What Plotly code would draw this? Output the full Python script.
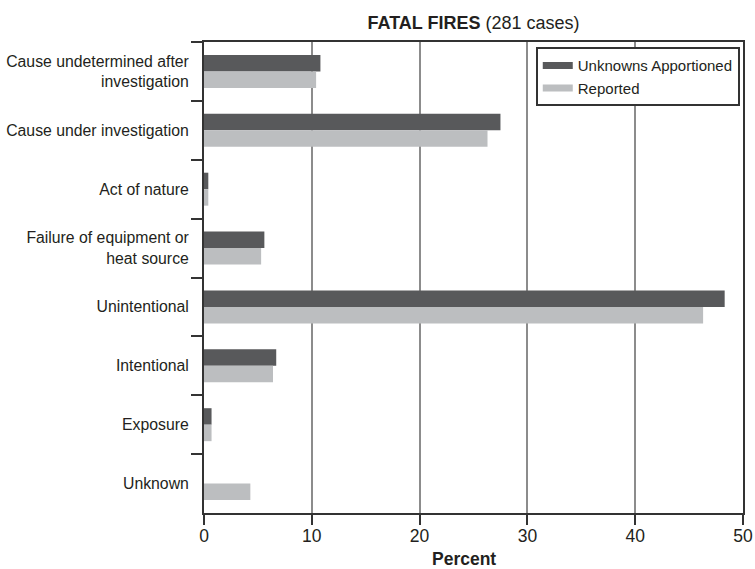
import plotly.graph_objects as go

categories = [
    "Cause undetermined after<br>investigation",
    "Cause under investigation",
    "Act of nature",
    "Failure of equipment or<br>heat source",
    "Unintentional",
    "Intentional",
    "Exposure",
    "Unknown",
]
apportioned = [10.8, 27.5, 0.4, 5.6, 48.3, 6.7, 0.7, 0.0]
reported = [10.4, 26.3, 0.4, 5.3, 46.3, 6.4, 0.7, 4.3]
series_names = ["Unknowns Apportioned", "Reported"]
x_ticks = [0, 10, 20, 30, 40, 50]

DARK = "#58595b"
LIGHT = "#bcbec0"
FONT = "Liberation Sans, Arial, sans-serif"
TXT = "#231f20"

fig = go.Figure()
fig.add_trace(go.Bar(y=categories, x=apportioned, orientation="h", marker_color=DARK,
                     marker_line_width=0, name=series_names[0], showlegend=False))
fig.add_trace(go.Bar(y=categories, x=reported, orientation="h", marker_color=LIGHT,
                     marker_line_width=0, name=series_names[1], showlegend=False))
# legend swatches (wide flat rectangles)
for nm, col in zip(series_names, [DARK, LIGHT]):
    fig.add_trace(go.Scatter(x=[None], y=[None], mode="lines", line=dict(color=col, width=7),
                             name=nm, showlegend=True))

fig.update_layout(
    width=755, height=569,
    margin=dict(l=204, r=12, t=42, b=56, autoexpand=False),
    paper_bgcolor="white", plot_bgcolor="white",
    barmode="group", bargap=0.44, bargroupgap=0,
    font=dict(family=FONT, size=15.8, color=TXT),
    title=dict(text="<b>FATAL FIRES</b> (281 cases)", x=0.5, xref="paper", xanchor="center",
               y=1 - 23 / 569, yref="container", yanchor="middle",
               font=dict(family=FONT, size=18, color=TXT)),
    legend=dict(x=0.994, y=0.989, xanchor="right", yanchor="top",
                bordercolor="#333333", borderwidth=2, bgcolor="white",
                font=dict(family=FONT, size=15, color=TXT),
                tracegroupgap=0, itemwidth=30),
    showlegend=True,
    annotations=[dict(text="<b>Percent</b>", xref="paper", yref="paper", x=0.483, y=0,
                      xanchor="center", yanchor="middle", yshift=-46, showarrow=False,
                      borderpad=0,
                      font=dict(family=FONT, size=17.5, color=TXT))],
)
fig.update_xaxes(
    range=[0, 50], tickvals=x_ticks, ticktext=[str(v) for v in x_ticks],
    showgrid=True, gridcolor="#8c8c8c", gridwidth=2, zeroline=False,
    showline=True, linecolor="#333333", linewidth=2, mirror=True,
    ticks="outside", ticklen=10, tickwidth=2, tickcolor="#333333",
    tickfont=dict(size=17.5), ticklabelstandoff=-4,
    automargin=False, fixedrange=True,
)
fig.update_yaxes(
    autorange="reversed", type="category", tickson="boundaries",
    showgrid=False, zeroline=False,
    showline=True, linecolor="#333333", linewidth=2, mirror=True,
    ticks="outside", ticklen=11, tickwidth=2, tickcolor="#333333",
    ticklabelstandoff=10,
    automargin=False, fixedrange=True,
)

fig.write_html("out.html", config={"displayModeBar": False},
               post_script="document.body.style.margin='0';")
